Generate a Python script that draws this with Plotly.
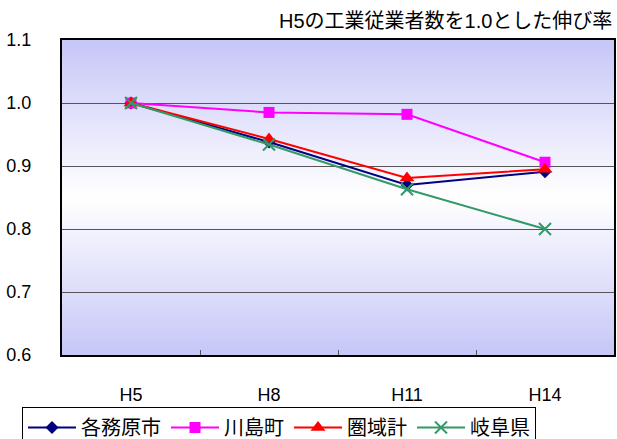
import plotly.graph_objects as go

categories = ["H5", "H8", "H11", "H14"]
kakamigahara = [1.000, 0.938, 0.870, 0.891]
kawashima = [1.000, 0.985, 0.982, 0.906]
kenikikei = [1.000, 0.943, 0.881, 0.895]
gifu = [1.000, 0.934, 0.863, 0.800]
y_ticks = [0.6, 0.7, 0.8, 0.9, 1.0, 1.1]
y_tick_labels = ["0.6", "0.7", "0.8", "0.9", "1.0", "1.1"]
title_text = "H5の工業従業者数を1.0とした伸び率"

FONT = "Arial, 'Liberation Sans', 'Noto Sans CJK JP', sans-serif"

series = [
    ("各務原市", kakamigahara, "#000080", dict(symbol="diamond", size=10)),
    ("川島町", kawashima, "#FF00FF", dict(symbol="square", size=11)),
    ("圏域計", kenikikei, "#FF0000", dict(symbol="triangle-up", size=13)),
    ("岐阜県", gifu, "#339966", dict(symbol="x-thin", size=12, line=dict(width=2, color="#339966"))),
]

fig = go.Figure()
for name, vals, color, mk in series:
    marker = dict(color=color, **mk)
    fig.add_trace(go.Scatter(
        x=categories, y=vals, name=name, mode="lines+markers",
        line=dict(color=color, width=2), marker=marker,
    ))

# vertical gradient background: lavender at edges, white at centre
shapes = []
N = 90
top = (198, 198, 248)
mid = (255, 255, 255)
for i in range(N):
    t = (i + 0.5) / N
    d = abs(t - 0.5) * 2
    c = tuple(round(mid[k] + (top[k] - mid[k]) * d) for k in range(3))
    shapes.append(dict(type="rect", xref="paper", yref="paper",
                       x0=0, x1=1, y0=i / N, y1=(i + 1) / N + 0.002,
                       fillcolor="rgb(%d,%d,%d)" % c, line=dict(width=0),
                       layer="below"))

fig.update_layout(
    width=617, height=439,
    margin=dict(l=62, r=3, t=40, b=84, autoexpand=False),
    paper_bgcolor="white", plot_bgcolor="white",
    font=dict(family=FONT, size=17, color="black"),
    shapes=shapes,
    showlegend=True,
    legend=dict(orientation="h", xref="container", yref="container",
                x=22 / 617, xanchor="left", y=1 - 407 / 439, yanchor="top",
                bordercolor="black", borderwidth=1, bgcolor="white",
                font=dict(family=FONT, size=20), itemwidth=48,
                tracegroupgap=0),
    annotations=[dict(text=title_text, xref="paper", yref="paper", x=1.0, y=1.0,
                      xanchor="right", yanchor="bottom", yshift=6, showarrow=False,
                      font=dict(family=FONT, size=20))],
    xaxis=dict(range=[-0.5, 3.5], tickson="boundaries", ticks="inside", ticklen=5,
               tickcolor="#555555", showgrid=False, showline=True, linecolor="black",
               linewidth=2, mirror=True, ticklabelstandoff=22, automargin=False,
               tickfont=dict(size=18)),
    yaxis=dict(range=[0.6, 1.1], tickvals=y_ticks, ticktext=y_tick_labels,
               showgrid=True, gridcolor="#555555", gridwidth=1, zeroline=False,
               showline=True, linecolor="black", linewidth=2, mirror=True,
               ticks="", ticklabelstandoff=25, automargin=False,
               tickfont=dict(size=18)),
)

fig.write_html("out.html", config={"displayModeBar": False},
               post_script="document.body.style.margin='0';document.body.style.overflow='hidden';")
